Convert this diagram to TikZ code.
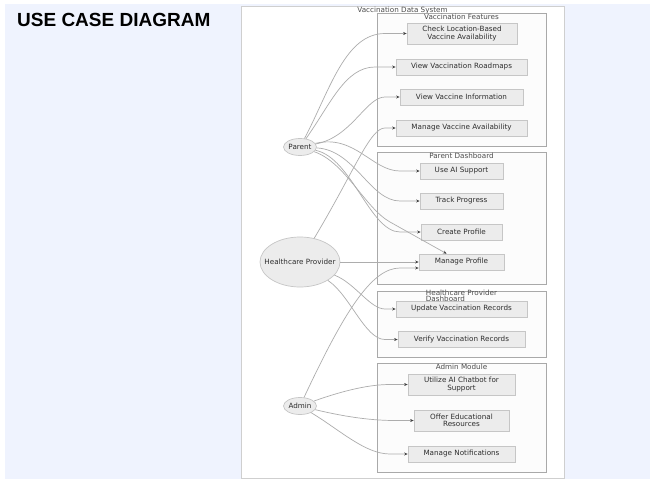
\documentclass[tikz,border=0pt]{standalone}
\usepackage{fontspec}
\newfontfamily\dvs{DejaVu Sans}
\newfontfamily\lib{Liberation Sans}
\usetikzlibrary{arrows.meta,shapes.geometric}
\definecolor{bgblue}{HTML}{EFF3FE}
\definecolor{boxfill}{HTML}{ECECEC}
\definecolor{boxline}{HTML}{C6C6C6}
\definecolor{edgec}{HTML}{ADADAD}
\definecolor{txt}{HTML}{2E2E2E}
\definecolor{sgline}{HTML}{A9A9A9}
\definecolor{sgfill}{HTML}{FCFCFC}
\definecolor{panelline}{HTML}{CFCFCF}
\begin{document}
\begin{tikzpicture}[x=1pt,y=-1pt,
  lbl/.style={font=\dvs\fontsize{7.2}{7.4}\selectfont, text=txt},
  uc/.style={lbl, draw=boxline, fill=boxfill, line width=0.7pt, align=center, inner sep=0pt, minimum height=16pt},
  uc2/.style={uc, minimum height=21pt},
  actor/.style={ellipse, draw=boxline, fill=boxfill, line width=0.7pt, inner sep=0pt, label={[lbl, inner sep=0pt]center:#1}},
  sg/.style={draw=sgline, fill=sgfill, line width=0.6pt},
  sgtitle/.style={lbl, text=txt!85, anchor=north, inner sep=0pt},
  flow/.style={draw=edgec, line width=0.7pt, -{Stealth[length=3.5pt,width=3pt,color=txt!90]}}
]
\useasboundingbox (0,0) rectangle (650,479);
\fill[white] (0,0) rectangle (650,479);
\fill[bgblue] (5,4) rectangle (650,479);
\node[anchor=base west, inner sep=0pt, font=\lib\bfseries\fontsize{19}{22}\selectfont] (title) at (17,27) {USE CASE DIAGRAM};

% outer panel
\draw[draw=panelline, fill=white, line width=0.7pt] (241,6) rectangle (564,478);
\node[sgtitle] (sysT) at (402.5,7) {Vaccination Data System};

% subgraphs
\draw[sg] (377,13) rectangle (546,146);
\node[sgtitle] (vfT) at (461.5,13.5) {Vaccination Features};
\draw[sg] (377,152) rectangle (546,284);
\node[sgtitle] (pdT) at (461.5,152.5) {Parent Dashboard};
\draw[sg] (377,291) rectangle (546,357);
\node[sgtitle, align=left, font=\dvs\fontsize{7.2}{6.8}\selectfont] (hpdT) at (461.5,289.5) {Healthcare Provider\\Dashboard};
\draw[sg] (377,363) rectangle (546,472);
\node[sgtitle] (amT) at (461.5,363.5) {Admin Module};

% use cases
\node[uc2, minimum width=110pt] (cl) at (462,33.5) {Check Location-Based\\Vaccine Availability};
\node[uc, minimum width=131pt] (vr) at (461.5,67) {View Vaccination Roadmaps};
\node[uc, minimum width=123pt] (vi) at (461.5,97) {View Vaccine Information};
\node[uc, minimum width=131pt] (mva) at (461.5,128) {Manage Vaccine Availability};
\node[uc, minimum width=83pt] (ai) at (461.5,171) {Use AI Support};
\node[uc, minimum width=83pt] (tp) at (461.5,201) {Track Progress};
\node[uc, minimum width=81pt] (cp) at (461.5,232) {Create Profile};
\node[uc, minimum width=85pt] (mp) at (461.5,262) {Manage Profile};
\node[uc, minimum width=131pt] (uvr) at (461.5,309) {Update Vaccination Records};
\node[uc, minimum width=127pt] (vvr) at (461.5,339.5) {Verify Vaccination Records};
\node[uc2, minimum width=107pt] (uac) at (461.5,384.5) {Utilize AI Chatbot for\\Support};
\node[uc2, minimum width=95pt] (oer) at (461.5,420.5) {Offer Educational\\Resources};
\node[uc, minimum width=107pt] (mn) at (461.5,454) {Manage Notifications};

% actors
\node[actor=Parent, minimum width=33pt, minimum height=17pt] (par) at (300,147) {};
\node[actor=Healthcare Provider, minimum width=80pt, minimum height=50pt] (hp) at (300,262) {};
\node[actor=Admin, minimum width=33pt, minimum height=17pt] (adm) at (300,406) {};

% connectors
\draw[flow] (par) .. controls (330,90) and (345,33.5) .. (385,33.5) -- (cl.west);
\draw[flow] (par) .. controls (330,105) and (345,67) .. (375,67) -- (vr.west);
\draw[flow] (par) .. controls (352,137) and (366,97) .. (385,97) -- (vi.west);
\draw[flow] (hp) .. controls (355,170) and (370,128) .. (385,128) -- (mva.west);
\draw[flow] (par) .. controls (355,134) and (372,171) .. (400,171) -- (ai.west);
\draw[flow] (par) .. controls (355,150) and (370,201) .. (400,201) -- (tp.west);
\draw[flow] (par) .. controls (352,158) and (370,232) .. (400,232) -- (cp.west);
\draw[flow] (par) .. controls (345,162) and (365,208) .. (390,222) -- (mp);
\draw[flow] (hp) -- (mp.west);
\draw[flow] (adm) .. controls (345,310) and (372,268) .. (400,268) -- ([yshift=-6pt]mp.west);
\draw[flow] (hp) .. controls (355,283) and (370,309) .. (385,309) -- (uvr.west);
\draw[flow] (hp) .. controls (350,295) and (365,339.5) .. (385,339.5) -- (vvr.west);
\draw[flow] (adm) .. controls (345,390) and (370,384.5) .. (390,384.5) -- (uac.west);
\draw[flow] (adm) .. controls (350,418) and (375,420.5) .. (395,420.5) -- (oer.west);
\draw[flow] (adm) .. controls (340,430) and (365,454) .. (390,454) -- (mn.west);
\end{tikzpicture}
\end{document}
